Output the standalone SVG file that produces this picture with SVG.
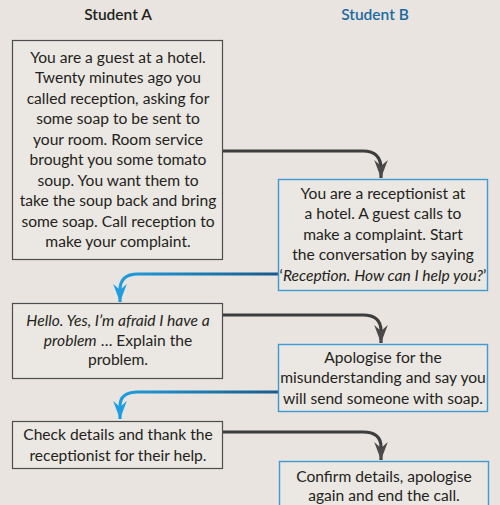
<svg xmlns="http://www.w3.org/2000/svg" width="500" height="505" viewBox="0 0 500 505">
<defs>
<style>
text{font-family:Lato,"Open Sans","Liberation Sans",sans-serif;font-size:15.6px;fill:#231f20;text-anchor:middle}
.h{font-size:15.5px;font-weight:600}
.hb{fill:#1b6aa0}
.it{font-style:italic}
.boxA{fill:#ebe7e2;stroke:#4d4d4d;stroke-width:1.2}
.boxB{fill:#ebe7e2;stroke:#3f9bd3;stroke-width:1.4}
.cd{fill:none;stroke:#3d3d3d;stroke-width:3.2;marker-end:url(#ad)}
.cb{fill:none;stroke:url(#gb);stroke-width:3.2;marker-end:url(#ab)}
</style>
<linearGradient id="gb" gradientUnits="userSpaceOnUse" x1="278" y1="0" x2="118" y2="0">
<stop offset="0" stop-color="#175a8c"/>
<stop offset="1" stop-color="#1e9ee0"/>
</linearGradient>
<marker id="ad" viewBox="-18 -7 19 14" refX="0" refY="0" markerWidth="19" markerHeight="14" markerUnits="userSpaceOnUse" orient="auto">
<path d="M-18,-6.8 L0,0 L-18,6.8 L-12,0 Z" fill="#4a4a4a"/>
</marker>
<marker id="ab" viewBox="-18 -7 19 14" refX="0" refY="0" markerWidth="19" markerHeight="14" markerUnits="userSpaceOnUse" orient="auto">
<path d="M-18,-6.8 L0,0 L-18,6.8 L-12,0 Z" fill="#1e9ee0"/>
</marker>
</defs>
<rect width="500" height="505" fill="#e9e4df"/>
<text class="h" x="118" y="20">Student A</text>
<text class="h hb" x="375" y="20">Student B</text>
<g id="connectors">
<path class="cd" d="M223,151 H363 Q381,151 381,169 V178"/>
<path class="cb" d="M278,274 H138 Q120,274 120,290 V302"/>
<path class="cd" d="M223,315 H363 Q381,315 381,331 V343"/>
<path class="cb" d="M278,392 H138 Q120,392 120,406 V419"/>
<path class="cd" d="M223,432 H363 Q381,432 381,447 V460"/>
</g>
<g id="a1">
<rect class="boxA" x="12.5" y="40.5" width="210" height="219"/>
<text x="118" y="62.5">You are a guest at a hotel.</text>
<text x="118" y="83">Twenty minutes ago you</text>
<text x="118" y="103.5">called reception, asking for</text>
<text x="118" y="124">some soap to be sent to</text>
<text x="118" y="144.5">your room. Room service</text>
<text x="118" y="165">brought you some tomato</text>
<text x="118" y="185.5">soup. You want them to</text>
<text x="118" y="206">take the soup back and bring</text>
<text x="118" y="226.5">some soap. Call reception to</text>
<text x="118" y="247">make your complaint.</text>
</g>
<g id="b1">
<rect class="boxB" x="278.5" y="179.5" width="209" height="111"/>
<text x="383" y="198.5">You are a receptionist at</text>
<text x="383" y="219">a hotel. A guest calls to</text>
<text x="383" y="239.5">make a complaint. Start</text>
<text x="383" y="260">the conversation by saying</text>
<text x="383" y="280.5">‘<tspan class="it">Reception. How can I help you?</tspan>’</text>
</g>
<g id="a2">
<rect class="boxA" x="12.5" y="303.5" width="210" height="75"/>
<text x="118" y="325.5" class="it">Hello. Yes, I’m afraid I have a</text>
<text x="118" y="345.5"><tspan class="it">problem</tspan> … Explain the</text>
<text x="118" y="365">problem.</text>
</g>
<g id="b2">
<rect class="boxB" x="278.5" y="344.5" width="209" height="67"/>
<text x="383" y="362.5">Apologise for the</text>
<text x="383" y="383">misunderstanding and say you</text>
<text x="383" y="403.5">will send someone with soap.</text>
</g>
<g id="a3">
<rect class="boxA" x="12.5" y="421.5" width="210" height="47"/>
<text x="118" y="439.5">Check details and thank the</text>
<text x="118" y="460.5">receptionist for their help.</text>
</g>
<g id="b3">
<rect class="boxB" x="279.5" y="461.5" width="209" height="50"/>
<text x="384" y="481.5">Confirm details, apologise</text>
<text x="384" y="501">again and end the call.</text>
</g>
</svg>
